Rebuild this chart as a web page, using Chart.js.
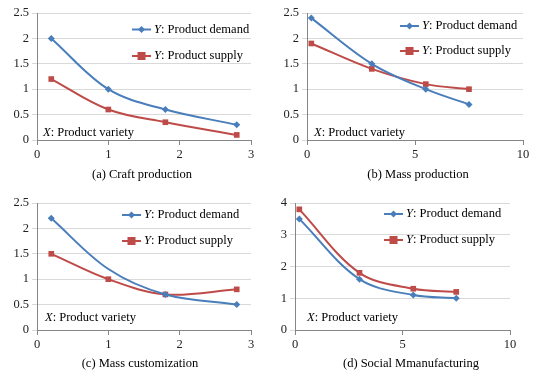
<!DOCTYPE html>
<html>
<head>
<meta charset="utf-8">
<script src="https://cdn.jsdelivr.net/npm/chart.js@4"></script>
<style>
html,body{margin:0;padding:0;background:#fff;width:545px;height:380px;overflow:hidden;}
canvas{position:absolute;}
</style>
</head>
<body>
<canvas id="c0" width="272" height="190" style="left:0;top:0"></canvas>
<canvas id="c1" width="273" height="190" style="left:272px;top:0"></canvas>
<canvas id="c2" width="272" height="190" style="left:0;top:190px"></canvas>
<canvas id="c3" width="273" height="190" style="left:272px;top:190px"></canvas>
<script>
// ---- data ----
const craftX = [0.2, 1, 1.8, 2.8];
const craftDemand = [2.0, 1.0, 0.6, 0.3];
const craftSupply = [1.2, 0.6, 0.35, 0.1];

const massProdX = [0.2, 3, 5.5, 7.5];
const massProdDemand = [2.4, 1.5, 1.0, 0.7];
const massProdSupply = [1.9, 1.4, 1.1, 1.0];

const massCustX = [0.2, 1, 1.8, 2.8];
const massCustDemand = [2.2, 1.2, 0.7, 0.5];
const massCustSupply = [1.5, 1.0, 0.7, 0.8];

const socialX = [0.2, 3, 5.5, 7.5];
const socialDemand = [3.5, 1.6, 1.1, 1.0];
const socialSupply = [3.8, 1.8, 1.3, 1.2];

const captions = ["(a) Craft production", "(b) Mass production", "(c) Mass customization", "(d) Social Mmanufacturing"];
const legendDemand = ": Product demand";
const legendSupply = ": Product supply";
const xLabel = ": Product variety";

const xRanges = [[0, 3, 1], [0, 10, 5], [0, 3, 1], [0, 10, 5]];
const yRanges = [[0, 2.5, 0.5], [0, 2.5, 0.5], [0, 2.5, 0.5], [0, 4, 1]];

// ---- styling / layout ----
const BLUE = '#4A7EBB';
const RED = '#BE4B48';
const FONT = '"Liberation Serif", "Times New Roman", serif';
const FS = 12.5;

const layouts = [
  {yw: 37, right: 21, leg: {x: 132, y1: 29.5, y2: 56}, xl: {x: 43, y: 133}, cap: {x: 142, y: 175}},
  {yw: 35, right: 22, leg: {x: 128, y1: 26, y2: 51}, xl: {x: 42, y: 133}, cap: {x: 146, y: 175}},
  {yw: 37, right: 21, leg: {x: 122, y1: 25, y2: 51}, xl: {x: 45, y: 128}, cap: {x: 140, y: 174}},
  {yw: 23, right: 35, leg: {x: 112, y1: 24, y2: 50}, xl: {x: 35, y: 128}, cap: {x: 139, y: 174}}
];

const sets = [
  [craftX, craftDemand, craftSupply],
  [massProdX, massProdDemand, massProdSupply],
  [massCustX, massCustDemand, massCustSupply],
  [socialX, socialDemand, socialSupply]
];

function pts(xs, ys) { return xs.map((x, i) => ({x: x, y: ys[i]})); }

function decorPlugin(idx) {
  const L = layouts[idx];
  return {
    id: 'decor' + idx,
    afterDraw(chart) {
      const ctx = chart.ctx;
      ctx.save();
      ctx.textBaseline = 'middle';
      // legend
      const items = [[BLUE, 'rectRot', legendDemand, L.leg.y1], [RED, 'rect', legendSupply, L.leg.y2]];
      items.forEach(([col, shape, txt, y]) => {
        ctx.strokeStyle = col; ctx.lineWidth = 2;
        ctx.beginPath(); ctx.moveTo(L.leg.x, y); ctx.lineTo(L.leg.x + 19, y); ctx.stroke();
        ctx.fillStyle = col;
        const cx = L.leg.x + 9.5;
        if (shape === 'rect') { ctx.fillRect(cx - 4, y - 4, 8, 8); }
        else { ctx.beginPath(); ctx.moveTo(cx, y - 3.5); ctx.lineTo(cx + 3.5, y); ctx.lineTo(cx, y + 3.5); ctx.lineTo(cx - 3.5, y); ctx.closePath(); ctx.fill(); }
        ctx.fillStyle = '#000';
        ctx.textAlign = 'left';
        ctx.font = 'italic ' + FS + 'px ' + FONT;
        ctx.fillText('Y', L.leg.x + 22, y);
        const w = ctx.measureText('Y').width;
        ctx.font = FS + 'px ' + FONT;
        ctx.fillText(txt, L.leg.x + 22 + w, y);
      });
      // x label
      ctx.font = 'italic ' + FS + 'px ' + FONT;
      ctx.fillText('X', L.xl.x, L.xl.y);
      const wx = ctx.measureText('X').width;
      ctx.font = FS + 'px ' + FONT;
      ctx.fillText(xLabel, L.xl.x + wx, L.xl.y);
      // caption
      ctx.textAlign = 'center';
      ctx.font = FS + 'px ' + FONT;
      ctx.fillText(captions[idx], L.cap.x, L.cap.y);
      ctx.restore();
    }
  };
}

sets.forEach((s, idx) => {
  const L = layouts[idx];
  const demandRadius = s[1].map(() => 3.5);
  if (idx === 2) demandRadius[1] = 0;
  new Chart(document.getElementById('c' + idx), {
    type: 'scatter',
    data: {
      datasets: [
        {label: 'Y: Product demand', data: pts(s[0], s[1]), showLine: true, borderColor: BLUE, backgroundColor: BLUE,
         borderWidth: 2, tension: 0.35, pointStyle: 'rectRot', pointRadius: demandRadius, pointBorderWidth: 0, pointHoverRadius: 0},
        {label: 'Y: Product supply', data: pts(s[0], s[2]), showLine: true, borderColor: RED, backgroundColor: RED,
         borderWidth: 2, tension: 0.35, pointStyle: 'rect', pointRadius: 4, pointBorderWidth: 0, pointHoverRadius: 0}
      ]
    },
    options: {
      responsive: false,
      animation: false,
      devicePixelRatio: 1,
      layout: {padding: {left: 0, top: 13, right: L.right, bottom: 28}},
      plugins: {legend: {display: false}, tooltip: {enabled: false}},
      scales: {
        x: {
          type: 'linear', min: xRanges[idx][0], max: xRanges[idx][1],
          afterFit(sc) { sc.height = 22; },
          ticks: {stepSize: xRanges[idx][2], color: '#222', font: {family: FONT, size: FS}, padding: 2, maxRotation: 0,
                  callback: v => String(Number(v.toFixed(2)))},
          grid: {drawOnChartArea: false, drawTicks: true, tickLength: 5, color: '#868686'},
          border: {color: '#868686', width: 1}
        },
        y: {
          min: yRanges[idx][0], max: yRanges[idx][1],
          afterFit(sc) { sc.width = L.yw; },
          ticks: {stepSize: yRanges[idx][2], color: '#222', font: {family: FONT, size: FS}, padding: 3,
                  callback: v => String(Number(v.toFixed(2)))},
          grid: {color: '#d9d9d9', tickLength: 5, drawTicks: true},
          border: {color: '#868686', width: 1}
        }
      }
    },
    plugins: [decorPlugin(idx)]
  });
});
</script>
</body>
</html>
